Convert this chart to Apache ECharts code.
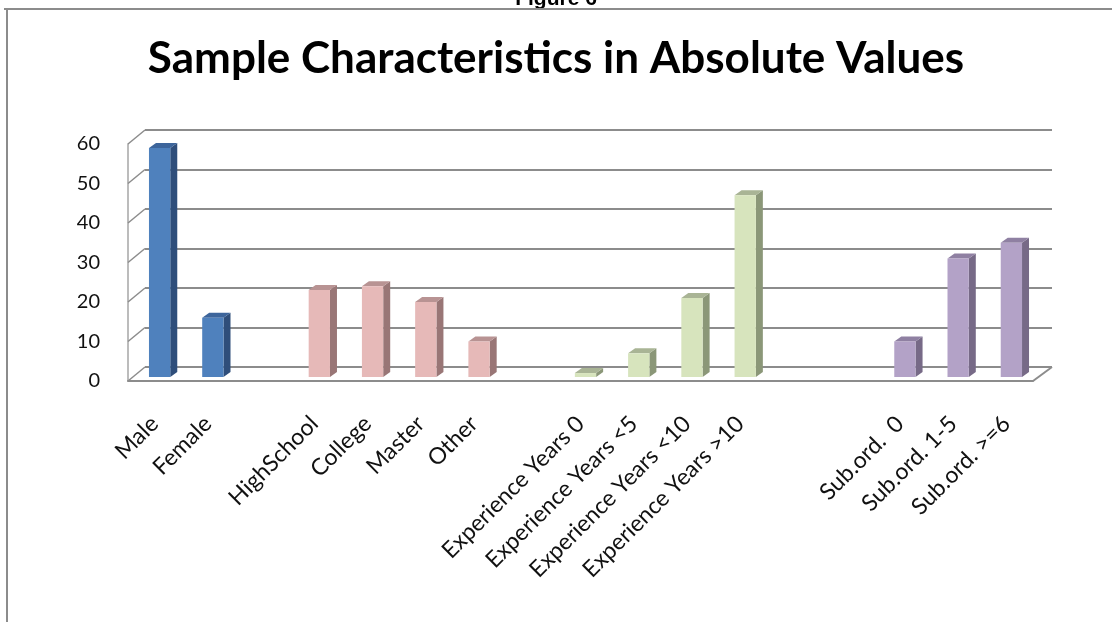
<!DOCTYPE html>
<html>
<head>
<meta charset="utf-8">
<script src="https://cdn.jsdelivr.net/npm/echarts@6/dist/echarts.min.js"></script>
<style>
  html, body { margin: 0; padding: 0; background: #fff; }
  #chart { width: 1112px; height: 622px; }
</style>
</head>
<body>
<div id="chart"></div>
<script>
// groups of the sample
var genderCats = ['Male', 'Female'];
var genderVals = [58, 15];
var eduCats = ['HighSchool', 'College', 'Master', 'Other'];
var eduVals = [22, 23, 19, 9];
var expCats = ['Experience Years 0', 'Experience Years <5', 'Experience Years <10', 'Experience Years >10'];
var expVals = [1, 6, 20, 46];
var subCats = ['Sub.ord.  0', 'Sub.ord. 1-5', 'Sub.ord. >=6'];
var subVals = [9, 30, 34];
var gaps = [1, 1, 2]; // empty slots between groups
var yTicks = [0, 10, 20, 30, 40, 50, 60];

// face colours: front, side, top
var palette = [
  ['#4f81bd', '#2f4e7a', '#3d659b'],
  ['#e6b9b8', '#997676', '#b89393'],
  ['#d7e4bd', '#8b9778', '#a9b495'],
  ['#b3a2c7', '#776a87', '#8f80a2']
];

var groups = [[genderCats, genderVals], [eduCats, eduVals], [expCats, expVals], [subCats, subVals]];
var categories = [];
var barData = [];
groups.forEach(function (g, gi) {
  g[0].forEach(function (c, k) {
    barData.push([categories.length, g[1][k], gi]);
    categories.push(c);
  });
  if (gi < gaps.length) {
    for (var b = 0; b < gaps[gi]; b++) categories.push('');
  }
});

var chart = echarts.init(document.getElementById('chart'));
var DX = 7, DY = -5; // bar depth

function renderBar(params, api) {
  var idx = api.value(0), v = api.value(1), gi = api.value(2);
  var top = api.coord([idx, v]);
  var bot = api.coord([idx, 0]);
  var w = api.size([1, 0])[0] * 0.4;
  var x0 = top[0] + 5 - w / 2, x1 = x0 + w;
  var yT = top[1] - 4, yB = bot[1] - 4;
  var c = palette[gi];
  return {
    type: 'group',
    children: [
      { type: 'polygon', shape: { points: [[x1, yT], [x1 + DX, yT + DY], [x1 + DX, yB + DY], [x1, yB]] }, style: { fill: c[1] } },
      { type: 'polygon', shape: { points: [[x0, yT], [x0 + DX, yT + DY], [x1 + DX, yT + DY], [x1, yT]] }, style: { fill: c[2] } },
      { type: 'rect', shape: { x: x0, y: yT, width: w, height: yB - yT }, style: { fill: c[0] } }
    ]
  };
}

function renderWallTick(params, api) {
  var p = api.coord([0, api.value(0)]);
  var left = params.coordSys.x;
  return {
    type: 'line',
    shape: { x1: left, y1: p[1], x2: left + 17, y2: p[1] - 14 },
    style: { stroke: '#8c8c8c', lineWidth: 1.5 }
  };
}

var option = {
  backgroundColor: '#fff',
  animation: false,
  title: {
    text: 'Sample Characteristics in Absolute Values',
    left: 'center',
    top: 32,
    textStyle: { fontFamily: 'Lato', fontWeight: 'bold', fontSize: 44, color: '#000' }
  },
  graphic: [
    { type: 'text', left: 'center', top: -11, style: { text: 'Figure 6', font: 'bold 21px "Liberation Sans"', fill: '#000' } },
    { type: 'line', shape: { x1: 4, y1: 9, x2: 1112, y2: 9 }, style: { stroke: '#8c8c8c', lineWidth: 2 } },
    { type: 'line', shape: { x1: 7, y1: 9, x2: 7, y2: 622 }, style: { stroke: '#8c8c8c', lineWidth: 2 } },
    { type: 'line', shape: { x1: 1052, y1: 367, x2: 1033, y2: 381 }, style: { stroke: '#8c8c8c', lineWidth: 2 } }
  ],
  grid: [
    { left: 145, top: 130, width: 907, height: 237 },
    { left: 128, top: 144, width: 905, height: 237 }
  ],
  xAxis: [
    { gridIndex: 0, type: 'category', data: categories, show: false },
    {
      gridIndex: 1, type: 'category', data: categories,
      axisLine: { lineStyle: { color: '#8c8c8c', width: 2 } },
      axisTick: { show: false },
      axisLabel: { interval: 0, rotate: 45, margin: 39, fontFamily: 'Lato', fontSize: 23, color: '#111' }
    }
  ],
  yAxis: [
    {
      gridIndex: 0, type: 'value', min: 0, max: 60, interval: 10,
      axisLine: { show: false }, axisTick: { show: false }, axisLabel: { show: false },
      splitLine: { lineStyle: { color: '#8c8c8c', width: 2 } }
    },
    {
      gridIndex: 1, type: 'value', min: 0, max: 60, interval: 10,
      axisLine: { show: true, lineStyle: { color: '#a6a6a6', width: 1.5 } },
      axisTick: { show: false },
      splitLine: { show: false },
      axisLabel: { margin: 28, fontFamily: 'Lato', fontSize: 20, color: '#111' }
    }
  ],
  series: [
    {
      type: 'custom', xAxisIndex: 1, yAxisIndex: 1,
      renderItem: renderWallTick,
      data: yTicks.map(function (t) { return [t]; }),
      encode: { y: 0 }, silent: true, z: 1
    },
    {
      type: 'custom', xAxisIndex: 1, yAxisIndex: 1,
      renderItem: renderBar,
      data: barData,
      encode: { x: 0, y: 1 }, z: 3
    }
  ]
};

chart.setOption(option);
</script>
</body>
</html>
